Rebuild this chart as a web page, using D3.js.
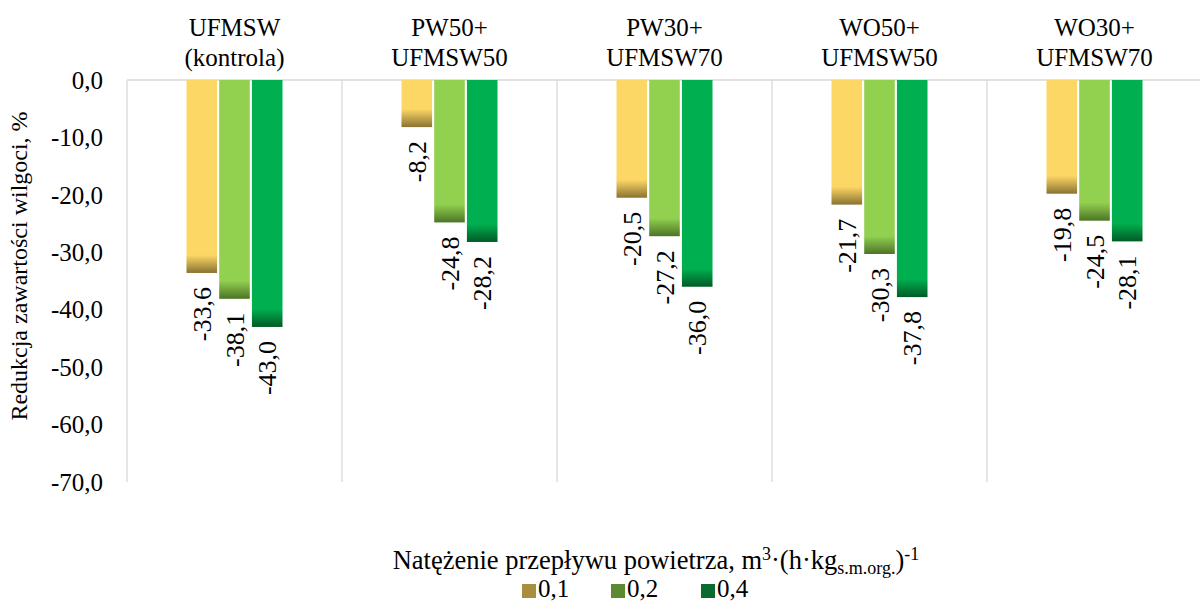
<!DOCTYPE html>
<html>
<head>
<meta charset="utf-8">
<script src="https://cdn.jsdelivr.net/npm/d3@7"></script>
<style>
  html, body { margin: 0; padding: 0; background: #fff; }
  svg { display: block; }
  svg text { font-family: "Liberation Serif", "Times New Roman", serif; }
</style>
</head>
<body>
<svg id="chart" width="1200" height="602"></svg>
<script>
// Wariant mieszanki (dwie linie etykiety)
const categories = [
  ["UFMSW", "(kontrola)"],
  ["PW50+", "UFMSW50"],
  ["PW30+", "UFMSW70"],
  ["WO50+", "UFMSW50"],
  ["WO30+", "UFMSW70"]
];
// Natężenie przepływu powietrza
const seriesNames = ["0,1", "0,2", "0,4"];
// Redukcja zawartości wilgoci, %
const values01 = [-33.6, -8.2, -20.5, -21.7, -19.8];
const values02 = [-38.1, -24.8, -27.2, -30.3, -24.5];
const values04 = [-43.0, -28.2, -36.0, -37.8, -28.1];
const yTicks = [0, -10, -20, -30, -40, -50, -60, -70];

const seriesValues = [values01, values02, values04];
const barColors = [
  { main: "#fdd765", dark: "#8a7332" },
  { main: "#92d050", dark: "#4c7426" },
  { main: "#00b050", dark: "#005a25" }
];
const legendColors = ["#a88f3f", "#5b8a33", "#0a6b32"];

const FONT = "'Liberation Serif', 'Times New Roman', serif";
const svg = d3.select("#chart");
const margin = { left: 127, right: -2 };
const W = 1200;

const x0 = d3.scaleBand()
  .domain(d3.range(categories.length))
  .range([margin.left, W - margin.right])
  .paddingInner(0).paddingOuter(0);

const x1 = d3.scaleBand()
  .domain(d3.range(seriesNames.length))
  .range([0, 96])
  .paddingInner(0.065);

const y = d3.scaleLinear().domain([0, -70]).range([80, 482]);

const fmt = v => d3.format(".1f")(v).replace(".", ",").replace("−", "-");

const defs = svg.append("defs");

// vertical separators between categories
const gridColor = "#d9d9d9";
const bounds = d3.range(categories.length + 1).map(i =>
  i < categories.length ? x0(i) : x0(categories.length - 1) + x0.bandwidth());
svg.append("g").selectAll("line").data(bounds).join("line")
  .attr("x1", d => d).attr("x2", d => d)
  .attr("y1", y(0)).attr("y2", y(-70))
  .attr("stroke", gridColor).attr("stroke-width", 1.3);

// zero line
svg.append("line")
  .attr("x1", x0.range()[0]).attr("x2", x0.range()[1])
  .attr("y1", y(0)).attr("y2", y(0))
  .attr("stroke", gridColor).attr("stroke-width", 1.3);

// y axis
const yAxis = d3.axisLeft(y).tickValues(yTicks).tickSize(0).tickPadding(0)
  .tickFormat(fmt);
const ya = svg.append("g").attr("transform", "translate(103,0)").call(yAxis)
  .attr("font-family", null).attr("font-size", null);
ya.select(".domain").remove();
ya.selectAll("text")
  .style("font-family", FONT)
  .attr("font-size", 25).attr("fill", "#000")
  .attr("dy", "0.33em");

// y axis title
svg.append("text")
  .attr("transform", "translate(27," + 266 + ") rotate(-90)")
  .attr("text-anchor", "middle")
  .style("font-family", FONT)
  .attr("font-size", 24).attr("fill", "#000")
  .text("Redukcja zawartości wilgoci, %");

// category labels
const catG = svg.append("g");
categories.forEach((lines, i) => {
  const cx = x0(i) + x0.bandwidth() / 2;
  const t = catG.append("text")
    .attr("text-anchor", "middle")
    .style("font-family", FONT)
    .attr("font-size", 25).attr("fill", "#000");
  lines.forEach((l, j) => {
    t.append("tspan").attr("x", cx).attr("y", 36 + j * 30).text(l);
  });
});

// bars
const groupWidth = x1.range()[1];
seriesValues.forEach((vals, s) => {
  const g = svg.append("g");
  g.selectAll("rect").data(vals).join("rect")
    .attr("x", (d, i) => x0(i) + (x0.bandwidth() - groupWidth) / 2 + x1(s))
    .attr("y", y(0))
    .attr("width", x1.bandwidth())
    .attr("height", d => y(d) - y(0))
    .attr("fill", (d, i) => {
      // darker band of fixed height at the base of each bar
      const h = y(d) - y(0);
      const id = "grad" + s + "_" + i;
      const gr = defs.append("linearGradient").attr("id", id)
        .attr("x1", 0).attr("y1", 0).attr("x2", 0).attr("y2", 1);
      const off = Math.max(0, 1 - 18 / h);
      gr.append("stop").attr("offset", 0).attr("stop-color", barColors[s].main);
      gr.append("stop").attr("offset", off).attr("stop-color", barColors[s].main);
      gr.append("stop").attr("offset", 1).attr("stop-color", barColors[s].dark);
      return "url(#" + id + ")";
    });

  // value labels, rotated, below each bar
  g.selectAll("text").data(vals).join("text")
    .attr("transform", (d, i) => {
      const cx = x0(i) + (x0.bandwidth() - groupWidth) / 2 + x1(s) + x1.bandwidth() / 2;
      return "translate(" + (cx + 9) + "," + (y(d) + 14) + ") rotate(-90)";
    })
    .attr("text-anchor", "end")
    .style("font-family", FONT)
    .attr("font-size", 26).attr("fill", "#000")
    .text(d => fmt(d));
});

// legend
const legTitle = svg.append("text")
  .attr("x", 656).attr("y", 569)
  .attr("text-anchor", "middle")
  .style("font-family", FONT)
  .attr("font-size", 26.5).attr("fill", "#000");
legTitle.append("tspan").text("Natężenie przepływu powietrza, m");
legTitle.append("tspan").attr("font-size", 18).attr("dy", -9).text("3");
legTitle.append("tspan").attr("dy", 9).text("·(h·kg");
legTitle.append("tspan").attr("font-size", 18).attr("dy", 5).text("s.m.org.");
legTitle.append("tspan").attr("dy", -5).text(")");
legTitle.append("tspan").attr("font-size", 18).attr("dy", -9).text("-1");

const legItems = svg.append("g");
const legX = [522, 611, 701];
seriesNames.forEach((n, i) => {
  legItems.append("rect")
    .attr("x", legX[i]).attr("y", 584)
    .attr("width", 14).attr("height", 14)
    .attr("fill", legendColors[i]);
  legItems.append("text")
    .attr("x", legX[i] + 16).attr("y", 597)
    .style("font-family", FONT)
    .attr("font-size", 25).attr("fill", "#000")
    .text(n);
});
</script>
</body>
</html>
